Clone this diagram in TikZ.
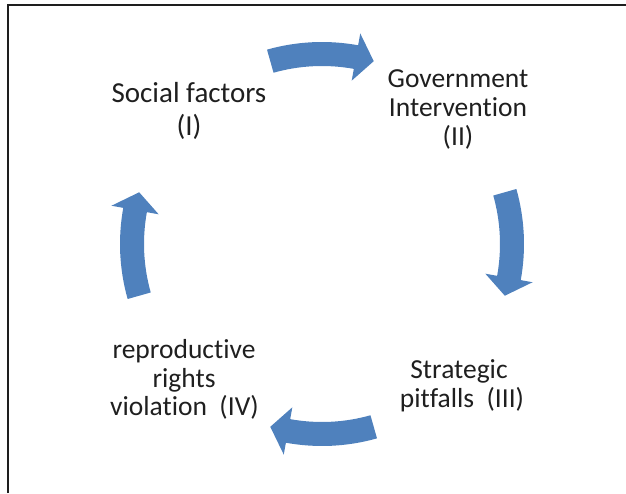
\documentclass[tikz,border=0pt]{standalone}
\usepackage{fontspec}
\setmainfont[Ligatures={NoCommon,NoRare,NoContextual},RawFeature={-liga;-dlig;-clig}]{Carlito}
\usetikzlibrary{calc}
\definecolor{arrowblue}{RGB}{79,129,189}
\definecolor{framegray}{RGB}{30,30,30}
\tikzset{
  lbl/.style={anchor=base, inner sep=0pt, text=black!88, font=\fontsize{27.5}{28.5}\selectfont},
  biglbl/.style={lbl, font=\fontsize{29}{30}\selectfont},
  arrowfill/.style={fill=arrowblue, draw=none},
  frameline/.style={draw=framegray, line width=2pt}
}
\begin{document}
\begin{tikzpicture}[x=1pt,y=1pt]
\useasboundingbox (0,0) rectangle (626,493);
\coordinate (O) at (322,249);
\coordinate (fa) at (7.5,0);
\coordinate (fb) at (7.5,488);
\coordinate (fc) at (626,488);
\draw[frameline] (fa) -- (fb) -- (fc);
% curved block arrows (clockwise)
\foreach \c in {90,0,-90,180} {
  \pgfmathsetmacro\aa{\c+15.8}
  \pgfmathsetmacro\at{\c-15.8}
  \pgfmathsetmacro\ah{\c-10.3}
  \fill[arrowfill] ($(O)+(\aa:202pt)$) arc[start angle=\aa, end angle=\ah, radius=202pt]
    -- ($(O)+(\ah:214pt)$) -- ($(O)+(\at:190pt)$) -- ($(O)+(\ah:166pt)$)
    -- ($(O)+(\ah:178pt)$) arc[start angle=\ah, end angle=\aa, radius=178pt] -- cycle;
}
% labels
\node[biglbl] (s1) at (189,{493-103}) {Social factors};
\node[biglbl] (s2) at (189,{493-136}) {(I)};
\node[lbl] (g1) at (458,{493-88}) {Government};
\node[lbl] (g2) at (458,{493-117}) {Intervention};
\node[lbl] (g3) at (458,{493-146}) {(II)};
\node[lbl] (p1) at (459,{493-378}) {Strategic};
\node[lbl] (p2) at (462,{493-407}) {pitfalls\ \ (III)};
\node[lbl] (r1) at (184,{493-358}) {reproductive};
\node[lbl] (r2) at (184,{493-387}) {rights};
\node[lbl] (r3) at (184.5,{493-415}) {violation\ \ (IV)};
\end{tikzpicture}
\end{document}
